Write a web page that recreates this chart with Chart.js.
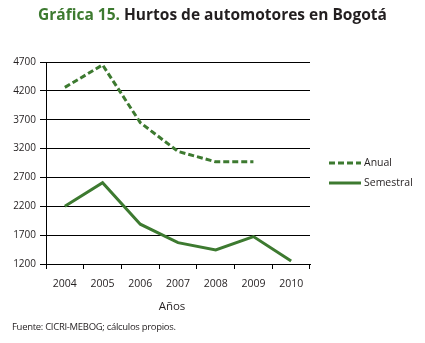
<!DOCTYPE html>
<html lang="es">
<head>
  <meta charset="UTF-8">
  <title>Hurtos de automotores en Bogotá</title>
  <script src="https://cdn.jsdelivr.net/npm/chart.js"></script>
<style>
  body {
    margin: 0;
    background: #fff;
    font-family: "Open Sans", sans-serif;
  }
  .wrap {
    position: relative;
    width: 425px;
    height: 343px;
    overflow: hidden;
  }
  #chart {
    position: absolute;
    left: 0;
    top: 0;
  }
  .title {
    position: absolute;
    top: 3px;
    left: 0;
    width: 425px;
    text-align: center;
    font-size: 15.5px;
    font-weight: bold;
    color: #231f20;
  }
  .title span {
    color: #3d7a30;
  }
  .xtitle {
    position: absolute;
    top: 298px;
    left: 152px;
    width: 40px;
    text-align: center;
    font-size: 11.5px;
    color: #231f20;
  }
  .source {
    position: absolute;
    top: 320px;
    left: 12px;
    font-size: 9.5px;
    letter-spacing: -0.3px;
    color: #231f20;
  }
</style>
</head>
<body>
  <div class="wrap">
    <canvas id="chart" width="425" height="343"></canvas>
    <div class="title"><span>Gráfica 15.</span> Hurtos de automotores en Bogotá</div>
    <div class="xtitle">Años</div>
    <div class="source">Fuente: CICRI-MEBOG; cálculos propios.</div>
  </div>

<script>
  const years = ['2004', '2005', '2006', '2007', '2008', '2009', '2010'];
  const anual = [4260, 4650, 3650, 3150, 2970, 2970, null];
  const semestral = [2200, 2610, 1890, 1570, 1445, 1675, 1250];
  const yTicks = [1200, 1700, 2200, 2700, 3200, 3700, 4200, 4700];

  const green = '#3d7a30';

  // legend drawn with line samples, to the right of the plot
  const lineLegend = {
    id: 'lineLegend',
    afterDraw(chart) {
      const ctx = chart.ctx;
      const rows = [{ y: 163 }, { y: 183 }];
      chart.data.datasets.forEach((ds, i) => {
        const y = rows[i].y;
        ctx.save();
        ctx.strokeStyle = ds.borderColor;
        ctx.lineWidth = ds.borderWidth;
        ctx.setLineDash(ds.borderDash || []);
        ctx.beginPath();
        ctx.moveTo(329, y);
        ctx.lineTo(361, y);
        ctx.stroke();
        ctx.setLineDash([]);
        ctx.fillStyle = '#231f20';
        ctx.font = '10.5px "Open Sans"';
        ctx.textBaseline = 'middle';
        ctx.fillText(ds.label, 364, y);
        ctx.restore();
      });
    }
  };

  new Chart(document.getElementById('chart'), {
    type: 'line',
    data: {
      labels: years,
      datasets: [
        {
          label: 'Anual',
          data: anual,
          borderColor: green,
          borderWidth: 3,
          borderDash: [6, 3],
          pointRadius: 0,
          tension: 0,
          spanGaps: false
        },
        {
          label: 'Semestral',
          data: semestral,
          borderColor: green,
          borderWidth: 3,
          pointRadius: 0,
          tension: 0
        }
      ]
    },
    options: {
      responsive: false,
      animation: false,
      layout: { padding: { left: 0, top: 62, right: 115, bottom: 0 } },
      plugins: {
        legend: { display: false },
        title: { display: false },
        tooltip: { enabled: false }
      },
      scales: {
        x: {
          offset: true,
          grid: {
            offset: true,
            drawOnChartArea: false,
            color: '#000',
            tickLength: 5,
            lineWidth: 1
          },
          border: { color: '#000', width: 1 },
          ticks: {
            color: '#231f20',
            font: { family: 'Open Sans', size: 10.5 },
            padding: 9,
            maxRotation: 0
          },
          afterFit(scale) { scale.height = 79; }
        },
        y: {
          min: 1200,
          max: 4700,
          afterBuildTicks(scale) {
            scale.ticks = yTicks.map(v => ({ value: v }));
          },
          grid: {
            color: '#000',
            lineWidth: 1,
            tickLength: 6
          },
          border: { color: '#000', width: 1 },
          ticks: {
            color: '#231f20',
            font: { family: 'Open Sans', size: 10 },
            padding: 4,
            callback: v => String(v)
          },
          afterFit(scale) { scale.width = 46; }
        }
      }
    },
    plugins: [lineLegend]
  });
</script>
</body>
</html>
